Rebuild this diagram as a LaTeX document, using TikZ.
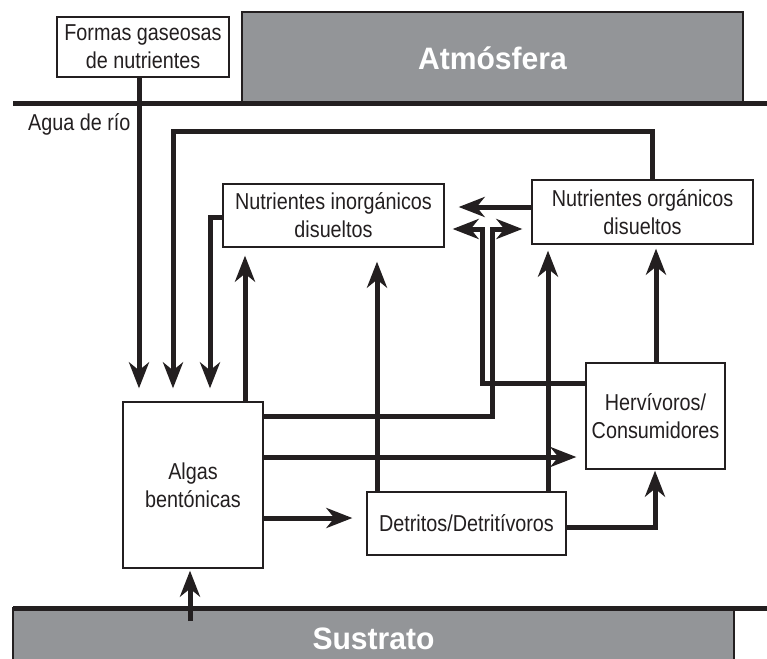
\documentclass[tikz,border=0pt]{standalone}
\usepackage{fontspec}
\setmainfont{Liberation Sans}[FakeStretch=0.86]
\newfontfamily\headfont{Liberation Sans}[FakeStretch=0.97]
\usetikzlibrary{arrows.meta,calc}
\definecolor{ink}{HTML}{231F20}
\definecolor{panel}{HTML}{939598}
\begin{document}
\begin{tikzpicture}[x=1pt,y=-1pt,
  box/.style={draw=ink, line width=1.3pt, fill=white, text=ink,
    font=\fontsize{23}{28}\selectfont, align=center, inner sep=0pt},
  panelbox/.style={draw=ink, line width=1.3pt, fill=panel, text=white,
    font=\headfont\bfseries\fontsize{31}{36}\selectfont, inner sep=0pt},
  lbl/.style={text=ink, font=\fontsize{23}{28}\selectfont, inner sep=0pt},
  thickline/.style={draw=ink, line width=5pt},
  arr/.style={draw=ink, line width=5pt, -{Stealth[length=26pt,width=20pt,inset=8pt]}}
]
\useasboundingbox (0,0) rectangle (767,658);

% panels
\node[panelbox, minimum width=501pt, minimum height=92pt] (atm) at (492.5,58) {Atmósfera};
\node[panelbox, minimum width=721pt, minimum height=62pt] (sus) at (373.5,639) {Sustrato};
\draw[thickline] (13,104) -- (767,104);
\draw[thickline] (13,608) -- (767,608);

% boxes
\node[box, minimum width=172pt, minimum height=60pt] (formas) at (143,47) {Formas gaseosas\\de nutrientes};
\node[lbl, anchor=base west] (agua) at (28,130) {Agua de río};
\node[box, minimum width=221pt, minimum height=63pt] (inorg) at (333.5,215.5) {Nutrientes inorgánicos\\disueltos};
\node[box, minimum width=221pt, minimum height=64pt] (org) at (642.5,212) {Nutrientes orgánicos\\disueltos};
\node[box, minimum width=140pt, minimum height=166pt] (algas) at (193,485) {Algas\\bentónicas};
\node[box, minimum width=139pt, minimum height=106pt] (herb) at (655.5,416) {Hervívoros/\\Consumidores};
\node[box, minimum width=199pt, minimum height=63pt] (det) at (466.5,523.5) {Detritos/Detritívoros};

% helper coordinates
\coordinate (xF) at (139,0);
\coordinate (lt) at (173,131);
\coordinate (lr) at (652,131);
\coordinate (xI) at (210,217);
\coordinate (xA) at (245,0);
\coordinate (xD) at (377,0);
\coordinate (yO) at (0,207);
\coordinate (p1) at (492,416);
\coordinate (p2) at (492,229);
\coordinate (q1) at (482,383);
\coordinate (q2) at (482,229);
\coordinate (xDO) at (548,0);
\coordinate (xHO) at (656,0);
\coordinate (yAH) at (0,457);
\coordinate (yAD) at (0,518);
\coordinate (dh) at (655,527);
\coordinate (sb) at (190,621);

% connectors
\draw[arr, shorten >=13pt] (formas.south -| xF) -- (algas.north -| xF);
\draw[arr, shorten >=13pt] (org.north -| lr) -- (lr) -- (lt) -- (algas.north -| lt);
\draw[arr, shorten >=13pt] (inorg.west |- xI) -- (xI) -- (algas.north -| xI);
\draw[arr, shorten >=8pt] (algas.north -| xA) -- (inorg.south -| xA);
\draw[arr, shorten >=14pt] (det.north -| xD) -- (inorg.south -| xD);
\draw[arr, shorten >=14pt] (org.west |- yO) -- (inorg.east |- yO);
\draw[arr, shorten >=9pt] (algas.east |- p1) -- (p1) -- (p2) -- (org.west |- p2);
\draw[arr, shorten >=8pt] (herb.west |- q1) -- (q1) -- (q2) -- (inorg.east |- q2);
\draw[arr, shorten >=6pt] (det.north -| xDO) -- (org.south -| xDO);
\draw[arr, shorten >=4pt] (herb.north -| xHO) -- (org.south -| xHO);
\draw[arr, shorten >=9pt] (algas.east |- yAH) -- (herb.west |- yAH);
\draw[arr, shorten >=14pt] (algas.east |- yAD) -- (det.west |- yAD);
\draw[arr, shorten >=1pt] (det.east |- dh) -- (dh) -- (herb.south -| dh);
\draw[arr, shorten >=2pt] (sb) -- (algas.south -| sb);
\end{tikzpicture}
\end{document}
